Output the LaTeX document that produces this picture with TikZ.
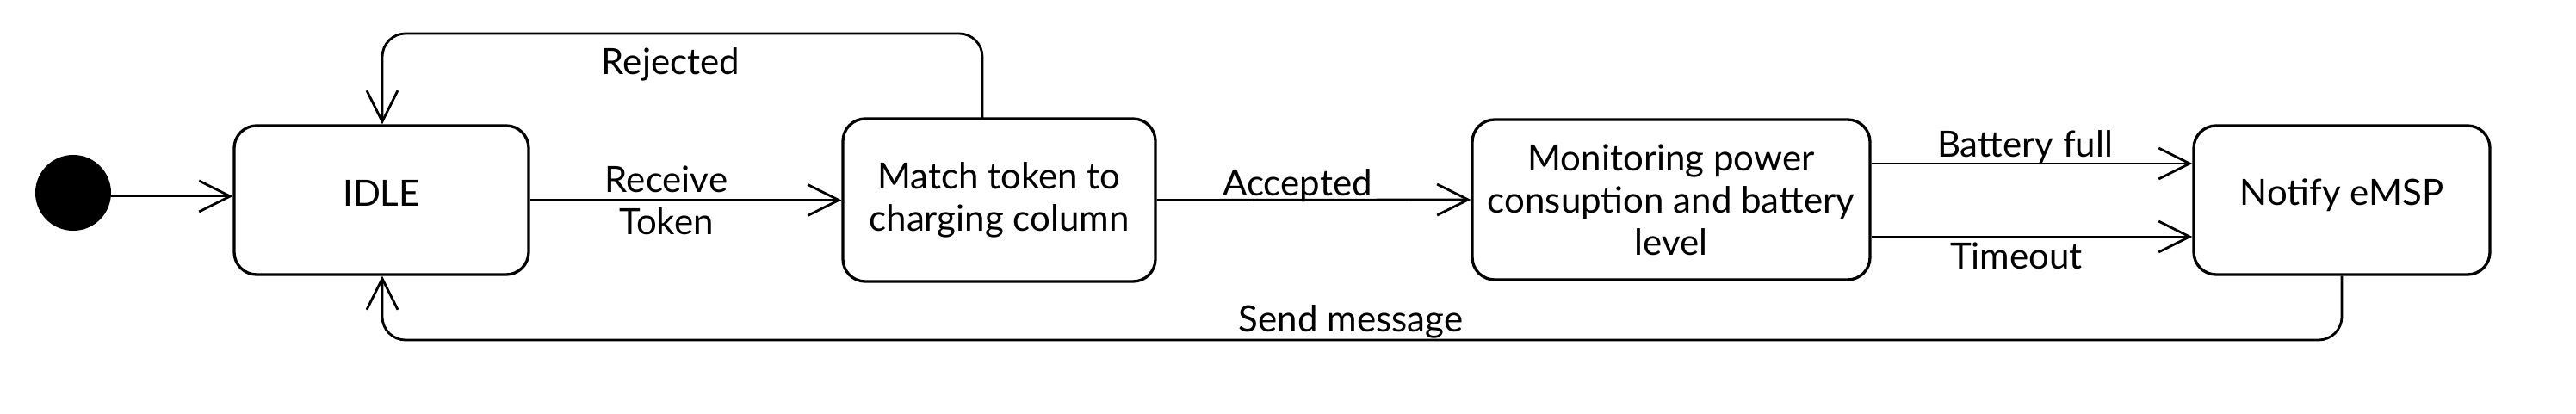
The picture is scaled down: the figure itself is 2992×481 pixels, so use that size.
\documentclass[tikz,border=0pt]{standalone}
\usepackage{fontspec}
\setmainfont{Lato}
\usetikzlibrary{arrows.meta,calc}
\begin{document}
\begin{tikzpicture}[x=1pt,y=-1pt,
  every node/.style={font=\fontsize{42}{49}\selectfont},
  state/.style={draw, line width=3.3pt, rounded corners=26pt, align=center, inner sep=0pt},
  tr/.style={draw, line width=2.8pt, -{Straight Barb[length=36pt,width=36pt]}},
  lbl/.style={align=center, inner sep=0pt}]
\useasboundingbox (0,0) rectangle (2992,481);
\node[circle, fill=black, minimum size=88pt, inner sep=0pt] (init) at (85,224) {};
\node[state, minimum width=342pt, minimum height=173pt, text height=30pt, text depth=17pt] (idle) at (443,232.5) {IDLE};
\node[state, minimum width=363pt, minimum height=189pt] (match) at (1160.5,232.5) {Match token to\\charging column};
\node[state, minimum width=462pt, minimum height=186pt] (mon) at (1941,232) {Monitoring power\\consuption and battery\\level};
\node[state, minimum width=344pt, minimum height=173pt, text height=31pt, text depth=20pt] (notify) at (2720,232.5) {Notify eMSP};
\coordinate (rtop) at (444,39);
\coordinate (sbot) at (444,395);
\coordinate (mtop) at (1141,138);
\draw[tr] ([yshift=-4pt]init.east) -- ([yshift=-4pt]init.east -| idle.west);
\draw[tr] (idle.east) -- (match.west);
\draw[tr, rounded corners=27pt] (mtop) |- (rtop) -- (rtop |- idle.north);
\draw[tr] (match.east) -- (mon.west);
\draw[tr] ([yshift=42pt]mon.east) -- ([yshift=42pt]mon.east -| notify.west);
\draw[tr] ([yshift=-43pt]mon.east) -- ([yshift=-43pt]mon.east -| notify.west);
\draw[tr, rounded corners=27pt] (notify.south) |- (sbot) -- (sbot |- idle.south);
\node[lbl] (lrecv) at (774,233) {Receive\\Token};
\node[lbl, anchor=base] (lrej) at (779,87) {Rejected};
\node[lbl, anchor=base] (lacc) at (1507,227) {Accepted};
\node[lbl, anchor=base] (lbat) at (2352,183) {Battery full};
\node[lbl, anchor=base] (ltime) at (2342,312) {Timeout};
\node[lbl, anchor=base] (lsend) at (1569,385) {Send message};
\end{tikzpicture}
\end{document}
